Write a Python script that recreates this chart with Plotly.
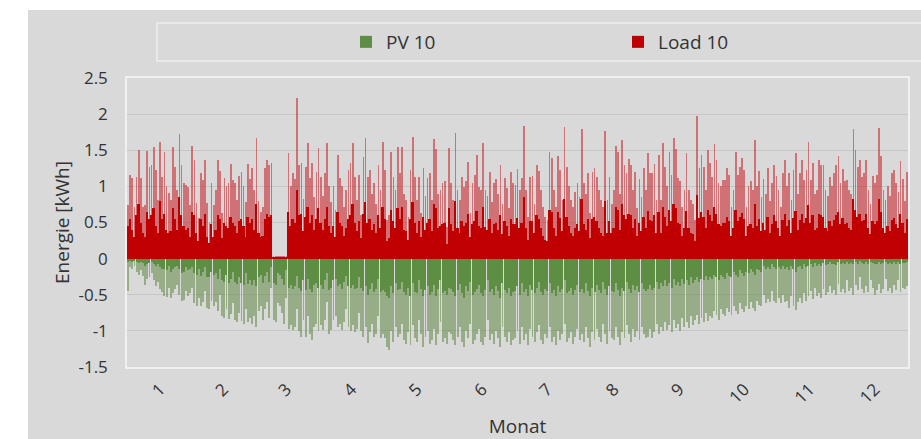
import plotly.graph_objects as go

# ---------------- data (daily values) ----------------
month_labels = ["1", "2", "3", "4", "5", "6", "7", "8", "9", "10", "11", "12"]
month_mid_day = [16, 45.5, 75, 105.5, 136, 166.5, 197, 228, 258.5, 289, 319.5, 350]

# Load 10 - daily peak (light spikes)
load_peak = [
    0.74,1.16,1.11,0.72,1.13,1.50,1.12,0.72,0.74,1.49,1.27,1.30,1.55,1.23,0.81,1.62,1.13,1.48,1.00,0.91,0.81,1.55,1.27,0.95,1.73,1.30,1.04,1.02,0.99,0.74,1.56,
    1.37,0.77,0.56,1.18,1.09,1.36,0.77,0.49,1.04,0.74,0.95,1.37,1.21,0.63,1.11,1.00,1.04,1.31,1.09,1.04,0.81,1.15,1.20,1.00,0.78,1.31,1.10,1.25,
    0.95,1.67,0.80,0.65,0.72,1.25,1.37,1.30,1.32,0.03,0.03,0.03,0.03,0.03,0.03,0.03,1.46,1.00,1.18,1.10,2.22,1.30,1.32,0.82,1.27,1.60,1.11,1.32,0.85,1.20,1.53,
    1.13,0.86,1.18,1.60,1.00,0.78,1.00,0.68,1.43,1.11,1.00,0.72,0.95,1.23,1.32,1.60,1.13,0.81,1.16,0.60,1.40,1.67,1.13,1.23,0.90,1.05,0.75,1.30,0.95,1.62,
    1.23,0.54,0.60,1.47,1.13,0.95,1.54,1.18,1.55,0.90,0.81,0.58,1.23,1.69,1.13,0.81,1.13,0.63,1.26,0.86,1.11,1.18,0.81,1.65,1.52,0.90,0.95,1.04,1.08,0.44,1.53,
    1.04,0.81,1.74,0.95,0.81,1.13,0.99,1.08,1.34,0.63,1.04,1.16,1.43,0.99,0.95,1.60,0.95,0.86,1.20,0.78,1.05,1.10,0.90,1.30,0.75,1.12,0.98,0.70,1.20,1.05,
    1.02,1.24,0.95,1.11,1.84,0.95,0.58,1.13,1.14,0.76,1.30,1.21,0.95,0.72,0.58,0.54,1.48,1.39,0.95,0.72,1.42,1.23,0.81,1.82,1.27,1.00,0.81,0.72,0.92,1.05,0.85,
    1.80,1.04,0.90,1.18,0.63,1.20,1.25,1.13,0.95,0.81,0.72,1.77,0.81,1.13,0.76,0.95,1.56,1.48,0.90,1.64,1.30,1.18,1.38,1.30,0.95,1.20,0.70,1.10,0.85,1.25,0.95,
    1.46,1.18,1.18,1.31,0.81,1.43,0.81,1.60,1.27,1.00,1.47,1.16,1.67,1.52,1.11,1.07,0.72,0.95,1.46,0.95,0.81,0.76,0.54,1.97,1.25,1.43,1.27,0.95,1.50,1.32,
    1.13,1.59,1.37,1.04,1.00,1.09,1.09,1.25,1.16,0.72,0.95,1.48,1.16,1.27,1.39,1.22,0.72,1.00,1.07,0.95,1.64,1.00,1.21,0.85,1.10,0.90,1.25,0.80,1.05,1.30,1.15,
    0.95,0.72,1.18,1.36,1.00,1.18,0.81,1.22,1.46,0.90,1.18,1.37,1.09,1.23,1.61,1.09,1.33,0.90,0.95,1.37,1.30,1.29,0.95,0.86,1.13,1.00,1.18,1.30,1.42,1.05,
    1.24,1.07,1.09,0.95,0.90,1.80,1.50,1.27,1.37,1.13,1.18,1.37,0.95,0.76,1.14,1.04,1.16,1.81,1.42,0.95,0.81,1.00,0.86,1.18,1.23,1.05,0.92,1.35,1.10,0.80,1.20,
]

# Load 10 - daily typical level (dense dark core)
load_core = [
    0.45,0.55,0.40,0.30,0.60,0.75,0.50,0.35,0.30,0.65,0.55,0.60,0.70,0.45,0.35,0.80,0.55,0.62,0.40,0.35,0.38,0.70,0.55,0.40,0.85,0.60,0.45,0.40,0.42,0.30,0.65,
    0.60,0.35,0.25,0.55,0.45,0.62,0.30,0.22,0.48,0.30,0.40,0.60,0.55,0.28,0.50,0.45,0.42,0.58,0.50,0.45,0.35,0.52,0.55,0.45,0.30,0.58,0.50,0.55,
    0.40,0.75,0.35,0.30,0.32,0.55,0.62,0.58,0.60,0.02,0.02,0.02,0.02,0.02,0.02,0.02,0.65,0.45,0.55,0.50,0.95,0.60,0.62,0.38,0.58,0.72,0.50,0.60,0.40,0.55,0.70,
    0.50,0.40,0.55,0.72,0.45,0.35,0.45,0.30,0.65,0.50,0.45,0.32,0.42,0.55,0.60,0.75,0.50,0.38,0.52,0.28,0.62,0.78,0.50,0.55,0.40,0.48,0.35,0.60,0.42,0.72,
    0.55,0.25,0.28,0.68,0.52,0.42,0.70,0.55,0.72,0.40,0.38,0.26,0.55,0.78,0.50,0.36,0.52,0.30,0.58,0.40,0.50,0.55,0.38,0.75,0.70,0.42,0.45,0.48,0.50,0.20,0.70,
    0.48,0.38,0.80,0.42,0.36,0.52,0.45,0.50,0.62,0.30,0.48,0.52,0.66,0.45,0.42,0.72,0.44,0.40,0.55,0.35,0.48,0.50,0.40,0.60,0.34,0.52,0.45,0.32,0.55,0.48,
    0.48,0.56,0.42,0.50,0.85,0.42,0.26,0.52,0.52,0.35,0.60,0.55,0.42,0.32,0.26,0.25,0.68,0.64,0.42,0.32,0.65,0.56,0.38,0.82,0.58,0.45,0.36,0.32,0.42,0.48,0.38,
    0.82,0.48,0.40,0.55,0.28,0.55,0.58,0.52,0.42,0.36,0.32,0.80,0.36,0.52,0.35,0.42,0.72,0.68,0.40,0.75,0.60,0.55,0.62,0.60,0.42,0.55,0.32,0.50,0.38,0.58,0.42,
    0.66,0.54,0.52,0.60,0.36,0.65,0.36,0.72,0.58,0.45,0.68,0.52,0.76,0.70,0.50,0.48,0.32,0.42,0.66,0.42,0.36,0.34,0.25,0.88,0.56,0.65,0.58,0.42,0.68,0.60,
    0.52,0.72,0.62,0.48,0.45,0.50,0.50,0.57,0.52,0.32,0.42,0.68,0.52,0.58,0.63,0.55,0.32,0.45,0.48,0.42,0.75,0.45,0.55,0.38,0.50,0.40,0.57,0.36,0.48,0.60,0.52,
    0.42,0.32,0.54,0.62,0.45,0.54,0.36,0.56,0.66,0.40,0.54,0.62,0.50,0.56,0.74,0.50,0.60,0.40,0.42,0.62,0.60,0.58,0.42,0.38,0.52,0.45,0.54,0.60,0.65,0.48,
    0.56,0.48,0.50,0.42,0.40,0.82,0.68,0.58,0.62,0.52,0.54,0.62,0.42,0.34,0.52,0.48,0.52,0.82,0.65,0.42,0.36,0.45,0.38,0.54,0.56,0.48,0.42,0.62,0.50,0.36,0.55,
]

# PV 10 - daily peak (plotted negative)
pv_peak = [
    -0.45,-0.12,-0.15,-0.10,-0.18,-0.22,-0.16,-0.24,-0.36,-0.28,-0.25,-0.20,-0.30,-0.38,-0.32,-0.42,-0.46,-0.52,-0.53,-0.40,-0.55,-0.48,-0.42,-0.36,-0.50,-0.58,-0.57,-0.45,-0.52,-0.48,-0.40,
    -0.62,-0.66,-0.55,-0.66,-0.60,-0.45,-0.69,-0.70,-0.58,-0.66,-0.60,-0.72,-0.50,-0.80,-0.82,-0.70,-0.83,-0.76,-0.62,-0.85,-0.88,-0.75,-0.86,-0.90,-0.70,-0.88,-0.82,-0.90,
    -0.80,-0.94,-0.72,-0.66,-0.85,-0.70,-0.60,-0.82,-0.40,-0.85,-0.88,-0.62,-0.66,-0.75,-0.90,-0.55,-0.98,-0.92,-0.99,-0.95,-0.70,-1.00,-1.08,-0.85,-1.08,-0.80,-1.05,-1.12,-0.95,-0.90,-1.00,
    -0.92,-0.99,-0.85,-0.60,-1.05,-0.99,-0.85,-0.80,-0.95,-0.90,-0.99,-0.88,-0.70,-0.95,-1.00,-0.92,-1.02,-0.98,-0.75,-1.00,-1.08,-0.95,-1.17,-1.02,-0.90,-1.08,-1.04,-0.80,-1.10,-1.05,
    -1.10,-1.22,-1.26,-1.00,-1.15,-0.95,-1.08,-1.05,-0.90,-1.12,-1.18,-1.02,-1.20,-0.92,-1.10,-1.15,-0.85,-1.05,-1.22,-1.08,-1.00,-1.18,-1.12,-0.98,-1.20,-1.05,-0.88,-1.15,-1.10,-1.18,-1.02,
    -1.05,-1.12,-1.20,-1.08,-0.95,-1.15,-1.22,-1.00,-1.10,-0.90,-1.18,-1.12,-1.05,-0.98,-1.15,-1.20,-1.08,-0.85,-1.12,-1.05,-1.18,-1.00,-1.10,-1.22,-0.95,-1.08,-1.15,-1.02,-1.20,-1.12,
    -1.10,-1.00,-1.18,-0.95,-1.12,-1.05,-1.20,-0.98,-1.08,-1.15,-1.02,-0.92,-1.12,-1.18,-1.05,-1.10,-0.95,-1.15,-1.08,-1.20,-1.00,-1.12,-1.05,-0.90,-1.15,-1.10,-1.02,-1.18,-1.08,-0.98,-1.12,
    -1.05,-1.15,-0.95,-1.10,-1.22,-1.02,-1.12,-0.98,-1.08,-1.15,-0.90,-1.05,-1.18,-1.00,-1.10,-1.12,-0.95,-1.08,-1.20,-1.02,-1.10,-0.92,-1.05,-1.15,-0.98,-1.08,-1.00,-1.12,-0.95,-1.05,-1.10,
    -1.08,-0.98,-1.10,-1.02,-0.90,-1.05,-0.95,-1.00,-0.88,-0.99,-0.92,-1.02,-0.85,-0.96,-0.90,-1.00,-0.82,-0.94,-0.88,-0.96,-0.80,-0.92,-0.85,-0.78,-0.90,-0.82,-0.88,-0.75,-0.86,-0.80,
    -0.82,-0.72,-0.78,-0.85,-0.70,-0.76,-0.80,-0.68,-0.74,-0.78,-0.65,-0.72,-0.76,-0.62,-0.70,-0.74,-0.66,-0.70,-0.60,-0.68,-0.72,-0.58,-0.64,-0.66,-0.50,-0.62,-0.56,-0.60,-0.45,-0.58,-0.62,
    -0.55,-0.62,-0.50,-0.60,-0.58,-0.68,-0.52,-0.65,-0.71,-0.60,-0.55,-0.62,-0.48,-0.58,-0.52,-0.45,-0.56,-0.40,-0.52,-0.48,-0.55,-0.42,-0.50,-0.46,-0.38,-0.48,-0.44,-0.50,-0.35,-0.46,
    -0.42,-0.48,-0.30,-0.45,-0.40,-0.50,-0.36,-0.44,-0.25,-0.42,-0.48,-0.38,-0.46,-0.30,-0.40,-0.50,-0.44,-0.35,-0.48,-0.42,-0.28,-0.45,-0.40,-0.48,-0.36,-0.44,-0.30,-0.46,-0.40,-0.42,-0.38,
]

# PV 10 - daily typical level (dense dark core, plotted negative)
pv_core = [
    -0.05,-0.03,-0.04,-0.03,-0.05,-0.06,-0.04,-0.06,-0.10,-0.08,-0.06,-0.05,-0.08,-0.10,-0.08,-0.12,-0.14,-0.15,-0.16,-0.10,-0.18,-0.14,-0.12,-0.10,-0.15,-0.20,-0.18,-0.12,-0.16,-0.15,-0.12,
    -0.20,-0.22,-0.15,-0.24,-0.18,-0.12,-0.25,-0.26,-0.18,-0.22,-0.20,-0.28,-0.14,-0.30,-0.32,-0.22,-0.34,-0.28,-0.18,-0.33,-0.35,-0.25,-0.34,-0.36,-0.20,-0.35,-0.30,-0.36,
    -0.30,-0.38,-0.25,-0.22,-0.34,-0.24,-0.18,-0.32,-0.12,-0.34,-0.36,-0.20,-0.22,-0.28,-0.36,-0.16,-0.40,-0.36,-0.42,-0.38,-0.24,-0.40,-0.45,-0.30,-0.44,-0.28,-0.42,-0.46,-0.36,-0.34,-0.40,
    -0.36,-0.42,-0.30,-0.20,-0.44,-0.40,-0.30,-0.28,-0.38,-0.35,-0.42,-0.32,-0.24,-0.38,-0.40,-0.36,-0.42,-0.40,-0.26,-0.40,-0.45,-0.38,-0.50,-0.42,-0.34,-0.46,-0.42,-0.28,-0.46,-0.44,
    -0.46,-0.52,-0.55,-0.38,-0.48,-0.34,-0.44,-0.42,-0.32,-0.46,-0.50,-0.40,-0.52,-0.34,-0.46,-0.48,-0.30,-0.42,-0.52,-0.44,-0.38,-0.50,-0.46,-0.36,-0.52,-0.42,-0.30,-0.48,-0.45,-0.50,-0.40,
    -0.42,-0.46,-0.52,-0.44,-0.35,-0.48,-0.54,-0.38,-0.45,-0.32,-0.50,-0.46,-0.42,-0.36,-0.48,-0.52,-0.44,-0.30,-0.46,-0.42,-0.50,-0.38,-0.45,-0.54,-0.34,-0.44,-0.48,-0.40,-0.52,-0.46,
    -0.45,-0.38,-0.50,-0.34,-0.46,-0.42,-0.52,-0.36,-0.44,-0.48,-0.40,-0.32,-0.46,-0.50,-0.42,-0.45,-0.34,-0.48,-0.44,-0.52,-0.38,-0.46,-0.42,-0.30,-0.48,-0.45,-0.40,-0.50,-0.44,-0.36,-0.46,
    -0.42,-0.48,-0.34,-0.45,-0.52,-0.40,-0.46,-0.36,-0.44,-0.48,-0.32,-0.42,-0.50,-0.38,-0.45,-0.46,-0.34,-0.44,-0.52,-0.40,-0.45,-0.32,-0.42,-0.48,-0.36,-0.44,-0.38,-0.46,-0.34,-0.42,-0.45,
    -0.42,-0.36,-0.44,-0.40,-0.32,-0.42,-0.34,-0.38,-0.30,-0.38,-0.34,-0.40,-0.28,-0.36,-0.32,-0.38,-0.28,-0.35,-0.30,-0.36,-0.26,-0.34,-0.30,-0.26,-0.32,-0.28,-0.30,-0.24,-0.30,-0.26,
    -0.28,-0.22,-0.25,-0.30,-0.22,-0.25,-0.28,-0.20,-0.24,-0.26,-0.18,-0.22,-0.25,-0.16,-0.20,-0.24,-0.18,-0.20,-0.15,-0.18,-0.22,-0.14,-0.16,-0.18,-0.10,-0.15,-0.12,-0.14,-0.08,-0.12,-0.14,
    -0.12,-0.15,-0.10,-0.14,-0.12,-0.16,-0.10,-0.14,-0.18,-0.12,-0.10,-0.14,-0.08,-0.12,-0.10,-0.08,-0.11,-0.06,-0.10,-0.08,-0.10,-0.06,-0.09,-0.08,-0.05,-0.08,-0.07,-0.09,-0.05,-0.07,
    -0.06,-0.08,-0.04,-0.07,-0.06,-0.08,-0.05,-0.07,-0.03,-0.06,-0.08,-0.05,-0.07,-0.04,-0.06,-0.08,-0.07,-0.05,-0.08,-0.06,-0.04,-0.07,-0.06,-0.08,-0.05,-0.07,-0.04,-0.07,-0.06,-0.06,-0.05,
]

days = list(range(1, len(load_peak) + 1))

# ---------------- styling ----------------
BG = "#D9D9D9"
FONT = "Open Sans, Noto Sans, sans-serif"
TXT = "#333333"

fig = go.Figure()
fig.add_trace(go.Bar(x=days, y=pv_peak, width=0.9, name="PV 10", legendgroup="pv",
                     showlegend=False, marker=dict(color="rgba(84,130,53,0.5)", line_width=0)))
fig.add_trace(go.Bar(x=days, y=pv_core, width=0.5, name="PV 10", legendgroup="pv",
                     marker=dict(color="#5E8D44", line_width=0), legend="legend"))
fig.add_trace(go.Bar(x=days, y=load_peak, width=0.8, name="Load 10", legendgroup="load",
                     showlegend=False, marker=dict(color="rgba(200,30,35,0.55)", line_width=0)))
fig.add_trace(go.Bar(x=days, y=load_core, width=0.85, name="Load 10", legendgroup="load",
                     marker=dict(color="#C00000", line_width=0), legend="legend2"))

L, R, T, B = 127, 13, 78, 72
W, H = 921, 439
pw, ph = W - L - R, H - T - B

def px_x(p):
    return (p - L) / pw

def px_y(p):
    return (H - B - p) / ph

shapes = [
    # grey chart panel (white strips remain on top and left)
    dict(type="rect", xref="paper", yref="paper", x0=px_x(28), x1=px_x(W + 5),
         y0=px_y(H + 5), y1=px_y(10), fillcolor=BG, line_width=0, layer="below"),
    # legend frame
    dict(type="rect", xref="paper", yref="paper", x0=px_x(157), x1=px_x(W + 20),
         y0=px_y(61), y1=px_y(23), fillcolor=BG, line=dict(color="#EEEEEE", width=1.5),
         layer="below"),
]

fig.update_layout(
    width=W, height=H,
    margin=dict(l=L, r=R, t=T, b=B, pad=0, autoexpand=False),
    paper_bgcolor="white", plot_bgcolor=BG,
    barmode="overlay", bargap=0,
    font=dict(family=FONT, color=TXT, size=16),
    shapes=shapes,
    legend=dict(orientation="h", x=px_x(346), xanchor="left", y=px_y(42), yanchor="middle",
                bgcolor="rgba(0,0,0,0)", font=dict(size=19, color=TXT, family=FONT),
                itemwidth=30, itemclick=False),
    legend2=dict(orientation="h", x=px_x(618), xanchor="left", y=px_y(42), yanchor="middle",
                 bgcolor="rgba(0,0,0,0)", font=dict(size=19, color=TXT, family=FONT),
                 itemwidth=30, itemclick=False),
    xaxis=dict(range=[0.5, 365.5], tickmode="array", tickvals=month_mid_day,
               ticktext=month_labels, tickangle=-45, showgrid=False, zeroline=False,
               showline=True, mirror=True, linecolor="#F0F0F0", linewidth=1.5,
               ticks="", ticklabelstandoff=4, tickfont=dict(size=17), automargin=False,
               title=dict(text="Monat", font=dict(size=19), standoff=13)),
    yaxis=dict(range=[-1.5, 2.5], tickmode="array",
               tickvals=[-1.5, -1, -0.5, 0, 0.5, 1, 1.5, 2, 2.5],
               ticktext=["-1.5", "-1", "-0.5", "0", "0.5", "1", "1.5", "2", "2.5"],
               showgrid=True, gridcolor="#C6C6C6", gridwidth=1, zeroline=False,
               showline=True, mirror=True, linecolor="#F0F0F0", linewidth=1.5,
               ticks="", ticklabelstandoff=14, tickfont=dict(size=17), automargin=False,
               title=dict(text="Energie [kWh]", font=dict(size=19), standoff=4)),
)

fig.write_html("out.html", config={"displayModeBar": False},
               post_script="document.body.style.margin='0';")
